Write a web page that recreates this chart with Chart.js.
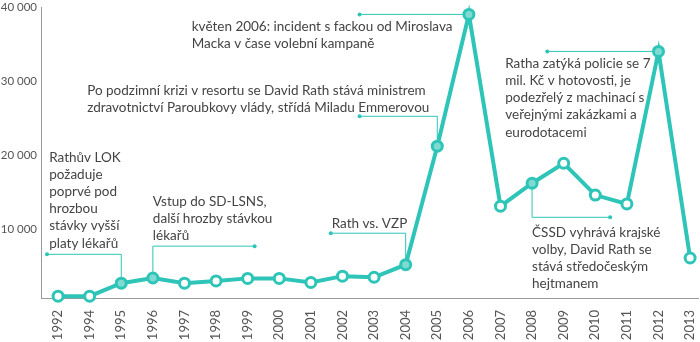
<!DOCTYPE html>
<html>
<head>
<meta charset="utf-8">
<script src="https://cdn.jsdelivr.net/npm/chart.js@4"></script>
<style>
  html, body { margin: 0; padding: 0; background: #fff; }
  #wrap { width: 700px; height: 342px; }
</style>
</head>
<body>
<div id="wrap"><canvas id="chart"></canvas></div>
<script>
// data
const years = ['1992', '1994', '1995', '1996', '1997', '1998', '1999', '2000', '2001', '2002', '2003',
               '2004', '2005', '2006', '2007', '2008', '2009', '2010', '2011', '2012', '2013'];
const values = [950, 950, 2700, 3400, 2700, 3000, 3350, 3350, 2800, 3650, 3500,
                5200, 21200, 39000, 13100, 16200, 18900, 14600, 13400, 34000, 6100];
const yTicks = [10000, 20000, 30000, 40000];
const highlighted = ['1995', '1996', '2004', '2005', '2006', '2008', '2012'];

// notes: text anchor and connector bends are in axis units (x = year index, y = value)
const notes = [
    { year: '1995', lines: ['Rathův LOK', 'požaduje', 'poprvé pod', 'hrozbou', 'stávky vyšší', 'platy lékařů'],
      text: [-0.28, 19700], path: [[-0.35, 6600], [2, 6600]] },
    { year: '1996', lines: ['Vstup do SD-LSNS,', 'další hrozby stávkou', 'lékařů'],
      text: [3.0, 13760], path: [[6.22, 7700], [3, 7700]] },
    { year: '2004', lines: ['Rath vs. VZP'],
      text: [8.66, 10800], path: [[8.63, 9450], [11, 9450]] },
    { year: '2005', lines: ['Po podzimní krizi v resortu se David Rath stává ministrem', 'zdravotnictví Paroubkovy vlády, střídá Miladu Emmerovou'],
      text: [0.92, 28750], path: [[9.54, 25240], [12, 25240]] },
    { year: '2006', lines: ['květen 2006: incident s fackou od Miroslava', 'Macka v čase volební kampaně'],
      text: [4.23, 37380], path: [[9.54, 39000]] },
    { year: '2012', lines: ['Ratha zatýká policie se 7', 'mil. Kč v hotovosti, je', 'podezřelý z machinací s', 'veřejnými zakázkami a', 'eurodotacemi'],
      text: [14.15, 32390], path: [[15.48, 34000]] },
    { year: '2008', lines: ['ČSSD vyhrává krajské', 'volby, David Rath se', 'stává středočeským', 'hejtmanem'],
      text: [15.0, 9580], path: [[17.47, 11600], [15, 11600]] }
];

const teal = '#2ec5b8';
const tealLight = '#7fdbd2';
const fontFamily = 'Lato, "Open Sans", sans-serif';

const notesPlugin = {
    id: 'notes',
    beforeDatasetsDraw(chart) {
        const ctx = chart.ctx;
        const xs = chart.scales.x, ys = chart.scales.y;
        ctx.save();
        ctx.strokeStyle = teal;
        ctx.fillStyle = teal;
        ctx.lineWidth = 1;
        notes.forEach(n => {
            const i = years.indexOf(n.year);
            const pts = n.path.concat([[i, values[i]]]);
            ctx.beginPath();
            pts.forEach((p, k) => {
                const px = xs.getPixelForValue(p[0]);
                const py = ys.getPixelForValue(p[1]);
                if (k === 0) ctx.moveTo(px, py); else ctx.lineTo(px, py);
            });
            ctx.stroke();
            ctx.beginPath();
            ctx.arc(xs.getPixelForValue(n.path[0][0]), ys.getPixelForValue(n.path[0][1]), 2, 0, Math.PI * 2);
            ctx.fill();
        });
        ctx.restore();
    },
    afterDraw(chart) {
        const ctx = chart.ctx;
        const xs = chart.scales.x, ys = chart.scales.y;
        ctx.save();
        ctx.fillStyle = '#444';
        ctx.font = '13.5px ' + fontFamily;
        ctx.textAlign = 'left';
        ctx.textBaseline = 'middle';
        notes.forEach(n => {
            const tx = xs.getPixelForValue(n.text[0]);
            const ty = ys.getPixelForValue(n.text[1]);
            n.lines.forEach((line, k) => ctx.fillText(line, tx, ty + k * 17.2));
        });
        ctx.restore();
    }
};

new Chart(document.getElementById('chart'), {
    type: 'line',
    data: {
        datasets: [{
            data: values.map((v, i) => ({ x: i, y: v })),
            borderColor: teal,
            borderWidth: 4,
            tension: 0,
            clip: false,
            pointRadius: 5,
            pointBorderWidth: 3,
            pointBorderColor: teal,
            pointBackgroundColor: years.map(y => highlighted.includes(y) ? tealLight : '#fff')
        }]
    },
    options: {
        responsive: true,
        maintainAspectRatio: false,
        animation: false,
        layout: { autoPadding: false, padding: { top: 7, right: 2, left: 0, bottom: 0 } },
        plugins: { legend: { display: false }, tooltip: { enabled: false } },
        scales: {
            x: {
                type: 'linear',
                min: -0.54,
                max: 20.25,
                afterBuildTicks: scale => { scale.ticks = years.map((y, i) => ({ value: i })); },
                afterFit: scale => {
                    scale.height = 44;
                    scale.paddingLeft = 0;
                    scale.paddingRight = 0;
                },
                grid: { display: false, drawTicks: false },
                border: { color: '#999', width: 1 },
                ticks: {
                    minRotation: 90,
                    maxRotation: 90,
                    padding: 12,
                    color: '#555',
                    font: { family: fontFamily, size: 13 },
                    callback: v => years[v]
                }
            },
            y: {
                min: 700,
                max: 40000,
                afterBuildTicks: scale => { scale.ticks = yTicks.map(v => ({ value: v })); },
                afterFit: scale => {
                    scale.width = 41;
                    scale.paddingTop = 0;
                    scale.paddingBottom = 0;
                },
                grid: { display: false, drawTicks: false },
                border: { color: '#999', width: 1 },
                ticks: {
                    padding: 4,
                    color: '#555',
                    font: { family: fontFamily, size: 11.5 },
                    callback: v => String(v).replace(/\B(?=(\d{3})+(?!\d))/g, ' ')
                }
            }
        }
    },
    plugins: [notesPlugin]
});
</script>
</body>
</html>
